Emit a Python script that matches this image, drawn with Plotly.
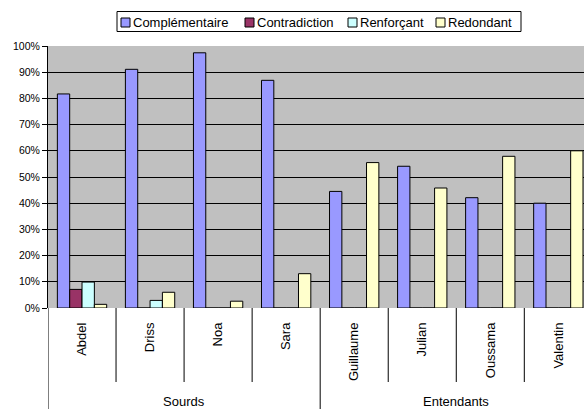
import plotly.graph_objects as go

# Participants and their group
participants = ["Abdel", "Driss", "Noa", "Sara", "Guillaume", "Julian", "Oussama", "Valentin"]
groups = ["Sourds", "Sourds", "Sourds", "Sourds",
          "Entendants", "Entendants", "Entendants", "Entendants"]

# Share of each relation type per participant (fractions)
complementaire = [0.817, 0.911, 0.974, 0.869, 0.445, 0.541, 0.421, 0.400]
contradiction = [0.071, 0.0, 0.0, 0.0, 0.0, 0.0, 0.0, 0.0]
renforcant = [0.099, 0.029, 0.0, 0.0, 0.0, 0.0, 0.0, 0.0]
redondant = [0.014, 0.060, 0.026, 0.131, 0.555, 0.458, 0.579, 0.600]

series_names = ["Complémentaire", "Contradiction", "Renforçant", "Redondant"]
series_values = [complementaire, contradiction, renforcant, redondant]
series_colors = ["#9999FF", "#993366", "#CCFFFF", "#FFFFCC"]

W, H = 584, 409
M_L, M_R, M_T, M_B = 48, 0, 46, 101
plot_w = W - M_L - M_R
plot_h = H - M_T - M_B
FONT = "Liberation Sans"
TXT = 13


def px_x(px):
    return (px - M_L) / plot_w


def px_y(py):
    return (H - M_B - py) / plot_h


xs = list(range(len(participants)))

fig = go.Figure()
for name, vals, color in zip(series_names, series_values, series_colors):
    fig.add_trace(go.Bar(
        x=xs, y=vals, name=name, showlegend=False,
        marker=dict(color=color, line=dict(color="black", width=1)),
    ))

shapes = []
annotations = []

# category dividers below the axis, longer ones between groups
n = len(participants)
for i in range(n + 1):
    b = i - 0.5
    if i == 0 or i == n or groups[i] != groups[i - 1]:
        y1 = px_y(H)
    else:
        y1 = px_y(382)
    shapes.append(dict(type="line", xref="x", yref="paper", x0=b, x1=b,
                       y0=0, y1=y1, line=dict(color="black", width=1)))

# group labels centred under their participants
seen = []
for g in groups:
    if g not in seen:
        seen.append(g)
for g in seen:
    idx = [i for i, gg in enumerate(groups) if gg == g]
    cx = (idx[0] + idx[-1]) / 2
    annotations.append(dict(x=cx, y=px_y(401), xref="x", yref="paper",
                            text=g, showarrow=False,
                            font=dict(family=FONT, size=TXT, color="black"),
                            xanchor="center", yanchor="middle"))

# legend box drawn by hand: frame, swatches and labels
shapes.append(dict(type="rect", xref="paper", yref="paper",
                   x0=px_x(117), x1=px_x(521), y0=px_y(31.5), y1=px_y(11.5),
                   line=dict(color="black", width=1), fillcolor="white", layer="above"))
swatch_left = [121, 245, 348, 436]
for name, color, sx in zip(series_names, series_colors, swatch_left):
    shapes.append(dict(type="rect", xref="paper", yref="paper",
                       x0=px_x(sx), x1=px_x(sx + 9), y0=px_y(27), y1=px_y(18),
                       line=dict(color="black", width=1), fillcolor=color, layer="above"))
    annotations.append(dict(x=px_x(sx + 10), y=px_y(22), xref="paper", yref="paper",
                            text=name, showarrow=False, xanchor="left", yanchor="middle",
                            font=dict(family=FONT, size=TXT, color="black")))

fig.update_layout(
    width=W, height=H,
    margin=dict(l=M_L, r=M_R, t=M_T, b=M_B),
    paper_bgcolor="white",
    plot_bgcolor="#C0C0C0",
    barmode="group",
    bargap=0.275,
    bargroupgap=0,
    font=dict(family=FONT, size=12, color="black"),
    showlegend=False,
    shapes=shapes,
    annotations=annotations,
    xaxis=dict(
        range=[-0.5, -0.5 + (plot_w - 0.35) / 68.0],
        tickmode="array", tickvals=xs, ticktext=participants,
        tickangle=-90, ticks="", ticklabelstandoff=11,
        tickfont=dict(family=FONT, size=TXT, color="black"),
        showgrid=False, zeroline=False, showline=False,
    ),
    yaxis=dict(
        range=[0, 1], dtick=0.1, tick0=0, tickformat=".0%",
        ticks="outside", ticklen=5, tickcolor="black", tickwidth=1,
        tickfont=dict(family=FONT, size=10.5, color="black"),
        showgrid=True, gridcolor="black", gridwidth=1,
        showline=True, linecolor="black", linewidth=1,
        zeroline=False,
    ),
)

fig.write_html("out.html")
